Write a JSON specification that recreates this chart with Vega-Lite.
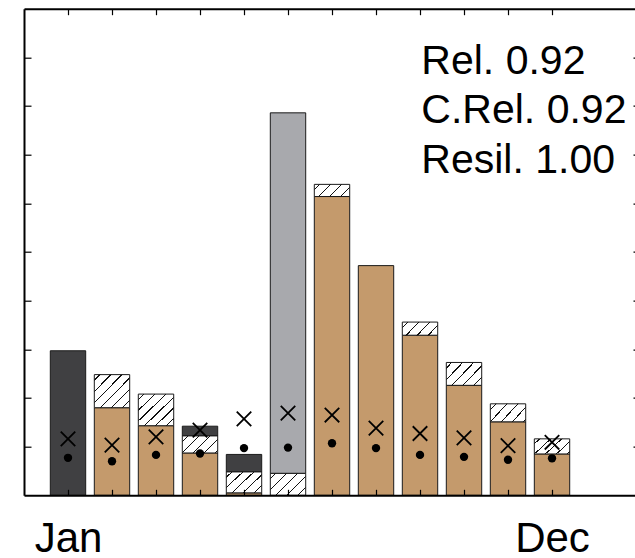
{
  "$schema": "https://vega.github.io/schema/vega-lite/v6.json",
  "width": 611,
  "height": 486.6,
  "autosize": "none",
  "padding": {"left": 24, "top": 8.7, "right": 0, "bottom": 62.7},
  "background": "white",
  "view": {"stroke": null},
  "config": {"font": "Liberation Sans"},
  "datasets": {
    "bars": [
      {"m": 1, "seg": "dark", "g": "", "lo": 0, "hi": 2.97},
      {"m": 2, "seg": "tan", "g": "", "lo": 0, "hi": 1.80},
      {"m": 2, "seg": "hatch", "g": "G4", "lo": 1.80, "hi": 2.48},
      {"m": 3, "seg": "tan", "g": "", "lo": 0, "hi": 1.43},
      {"m": 3, "seg": "hatch", "g": "G4", "lo": 1.43, "hi": 2.08},
      {"m": 4, "seg": "tan", "g": "", "lo": 0, "hi": 0.87},
      {"m": 4, "seg": "hatch", "g": "G2", "lo": 0.87, "hi": 1.22},
      {"m": 4, "seg": "dark", "g": "", "lo": 1.22, "hi": 1.42},
      {"m": 5, "seg": "tan", "g": "", "lo": 0, "hi": 0.05},
      {"m": 5, "seg": "hatch", "g": "G3", "lo": 0.05, "hi": 0.48},
      {"m": 5, "seg": "dark", "g": "", "lo": 0.48, "hi": 0.84},
      {"m": 6, "seg": "hatch", "g": "G3", "lo": 0, "hi": 0.45},
      {"m": 6, "seg": "gray", "g": "", "lo": 0.45, "hi": 7.86},
      {"m": 7, "seg": "tan", "g": "", "lo": 0, "hi": 6.14},
      {"m": 7, "seg": "hatch", "g": "G1", "lo": 6.14, "hi": 6.39},
      {"m": 8, "seg": "tan", "g": "", "lo": 0, "hi": 4.72},
      {"m": 9, "seg": "tan", "g": "", "lo": 0, "hi": 3.29},
      {"m": 9, "seg": "hatch", "g": "G1", "lo": 3.29, "hi": 3.56},
      {"m": 10, "seg": "tan", "g": "", "lo": 0, "hi": 2.26},
      {"m": 10, "seg": "hatch", "g": "G3", "lo": 2.26, "hi": 2.73},
      {"m": 11, "seg": "tan", "g": "", "lo": 0, "hi": 1.51},
      {"m": 11, "seg": "hatch", "g": "G2", "lo": 1.51, "hi": 1.88},
      {"m": 12, "seg": "tan", "g": "", "lo": 0, "hi": 0.85},
      {"m": 12, "seg": "hatch", "g": "G2", "lo": 0.85, "hi": 1.16}
    ],
    "pts": [
      {"m": 1, "cross": 1.16, "dot": 0.77},
      {"m": 2, "cross": 1.03, "dot": 0.70},
      {"m": 3, "cross": 1.20, "dot": 0.83},
      {"m": 4, "cross": 1.34, "dot": 0.86},
      {"m": 5, "cross": 1.57, "dot": 0.97},
      {"m": 6, "cross": 1.69, "dot": 0.98},
      {"m": 7, "cross": 1.65, "dot": 1.07},
      {"m": 8, "cross": 1.38, "dot": 0.97},
      {"m": 9, "cross": 1.27, "dot": 0.83},
      {"m": 10, "cross": 1.18, "dot": 0.79},
      {"m": 11, "cross": 1.02, "dot": 0.73},
      {"m": 12, "cross": 1.09, "dot": 0.76}
    ],
    "notes": [
      {"x": 9.03, "y": 8.66, "t": "Rel. 0.92"},
      {"x": 9.03, "y": 7.645, "t": "C.Rel. 0.92"},
      {"x": 9.03, "y": 6.617, "t": "Resil. 1.00"}
    ]
  },
  "resolve": {"axis": {"x": "independent", "y": "independent"}},
  "layer": [
    {
      "data": {"name": "bars"},
      "transform": [{"filter": "datum.seg !== 'hatch'"}],
      "mark": {"type": "bar", "size": 35.4, "stroke": "#1a1a1a", "strokeWidth": 1},
      "encoding": {
        "x": {"field": "m", "type": "quantitative",
              "scale": {"domain": [0, 13.886], "nice": false, "zero": false, "padding": 0},
              "axis": {"orient": "bottom", "values": [1,2,3,4,5,6,7,8,9,10,11,12], "tickSize": -6, "tickColor": "black", "tickWidth": 1.2,
                       "domainColor": "black", "domainWidth": 2, "grid": false, "title": null, "zindex": 1,
                       "labelExpr": "datum.value == 1 ? 'Jan' : (datum.value == 12 ? 'Dec' : '')",
                       "labelFontSize": 42, "labelFont": "Liberation Sans", "labelColor": "black", "labelPadding": 29, "labelOverlap": false, "labelFlush": false}},
        "y": {"field": "lo", "type": "quantitative",
              "scale": {"domain": [0, 10], "nice": false, "zero": false, "padding": 0},
              "axis": {"orient": "left", "values": [1,2,3,4,5,6,7,8,9], "tickSize": -7, "tickColor": "black", "tickWidth": 1.2,
                       "domainColor": "black", "domainWidth": 2, "labels": false, "grid": false, "title": null, "zindex": 1}},
        "y2": {"field": "hi"},
        "fill": {"field": "seg", "type": "nominal",
                 "scale": {"domain": ["tan", "dark", "gray"], "range": ["#c49a6c", "#404042", "#a8a9ad"]},
                 "legend": null}
      }
    },
    {
      "data": {"name": "bars"},
      "transform": [{"filter": "datum.g === 'G1'"}],
      "mark": {"type": "bar", "size": 35.4, "stroke": "#1a1a1a", "strokeWidth": 1,
               "fill": {"gradient": "linear", "x1": 0, "y1": 0, "x2": 1.203, "y2": 0.4248,
                        "stops": [
                          {"offset": 0, "color": "white"},
                          {"offset": 0.1013, "color": "white"}, {"offset": 0.1013, "color": "#111"}, {"offset": 0.1283, "color": "#111"}, {"offset": 0.1283, "color": "white"},
                          {"offset": 0.3309, "color": "white"}, {"offset": 0.3309, "color": "#111"}, {"offset": 0.3579, "color": "#111"}, {"offset": 0.3579, "color": "white"},
                          {"offset": 0.5605, "color": "white"}, {"offset": 0.5605, "color": "#111"}, {"offset": 0.5875, "color": "#111"}, {"offset": 0.5875, "color": "white"},
                          {"offset": 0.7901, "color": "white"}, {"offset": 0.7901, "color": "#111"}, {"offset": 0.8171, "color": "#111"}, {"offset": 0.8171, "color": "white"},
                          {"offset": 1, "color": "white"}
                        ]}},
      "encoding": {
        "x": {"field": "m", "type": "quantitative", "axis": null},
        "y": {"field": "lo", "type": "quantitative", "axis": null},
        "y2": {"field": "hi"}
      }
    },
    {
      "data": {"name": "bars"},
      "transform": [{"filter": "datum.g === 'G2'"}],
      "mark": {"type": "bar", "size": 35.4, "stroke": "#1a1a1a", "strokeWidth": 1,
               "fill": {"gradient": "linear", "x1": 0, "y1": 0, "x2": 1.2044, "y2": 0.5614,
                        "stops": [
                          {"offset": 0, "color": "white"},
                          {"offset": 0.0935, "color": "white"}, {"offset": 0.0935, "color": "#111"}, {"offset": 0.1185, "color": "#111"}, {"offset": 0.1185, "color": "white"},
                          {"offset": 0.3054, "color": "white"}, {"offset": 0.3054, "color": "#111"}, {"offset": 0.3304, "color": "#111"}, {"offset": 0.3304, "color": "white"},
                          {"offset": 0.5173, "color": "white"}, {"offset": 0.5173, "color": "#111"}, {"offset": 0.5423, "color": "#111"}, {"offset": 0.5423, "color": "white"},
                          {"offset": 0.7292, "color": "white"}, {"offset": 0.7292, "color": "#111"}, {"offset": 0.7542, "color": "#111"}, {"offset": 0.7542, "color": "white"},
                          {"offset": 0.9411, "color": "white"}, {"offset": 0.9411, "color": "#111"}, {"offset": 0.9661, "color": "#111"}, {"offset": 0.9661, "color": "white"},
                          {"offset": 1, "color": "white"}
                        ]}},
      "encoding": {
        "x": {"field": "m", "type": "quantitative", "axis": null},
        "y": {"field": "lo", "type": "quantitative", "axis": null},
        "y2": {"field": "hi"}
      }
    },
    {
      "data": {"name": "bars"},
      "transform": [{"filter": "datum.g === 'G3'"}],
      "mark": {"type": "bar", "size": 35.4, "stroke": "#1a1a1a", "strokeWidth": 1,
               "fill": {"gradient": "linear", "x1": 0, "y1": 0, "x2": 1.1697, "y2": 0.7269,
                        "stops": [
                          {"offset": 0, "color": "white"},
                          {"offset": 0.0845, "color": "white"}, {"offset": 0.0845, "color": "#111"}, {"offset": 0.1071, "color": "#111"}, {"offset": 0.1071, "color": "white"},
                          {"offset": 0.2761, "color": "white"}, {"offset": 0.2761, "color": "#111"}, {"offset": 0.2987, "color": "#111"}, {"offset": 0.2987, "color": "white"},
                          {"offset": 0.4677, "color": "white"}, {"offset": 0.4677, "color": "#111"}, {"offset": 0.4903, "color": "#111"}, {"offset": 0.4903, "color": "white"},
                          {"offset": 0.6593, "color": "white"}, {"offset": 0.6593, "color": "#111"}, {"offset": 0.6819, "color": "#111"}, {"offset": 0.6819, "color": "white"},
                          {"offset": 0.8509, "color": "white"}, {"offset": 0.8509, "color": "#111"}, {"offset": 0.8735, "color": "#111"}, {"offset": 0.8735, "color": "white"},
                          {"offset": 1, "color": "white"}
                        ]}},
      "encoding": {
        "x": {"field": "m", "type": "quantitative", "axis": null},
        "y": {"field": "lo", "type": "quantitative", "axis": null},
        "y2": {"field": "hi"}
      }
    },
    {
      "data": {"name": "bars"},
      "transform": [{"filter": "datum.g === 'G4'"}],
      "mark": {"type": "bar", "size": 35.4, "stroke": "#1a1a1a", "strokeWidth": 1,
               "fill": {"gradient": "linear", "x1": 0, "y1": 0, "x2": 1.0436, "y2": 0.9522,
                        "stops": [
                          {"offset": 0, "color": "white"},
                          {"offset": 0.0717, "color": "white"}, {"offset": 0.0717, "color": "#111"}, {"offset": 0.0909, "color": "#111"}, {"offset": 0.0909, "color": "white"},
                          {"offset": 0.2342, "color": "white"}, {"offset": 0.2342, "color": "#111"}, {"offset": 0.2534, "color": "#111"}, {"offset": 0.2534, "color": "white"},
                          {"offset": 0.3967, "color": "white"}, {"offset": 0.3967, "color": "#111"}, {"offset": 0.4159, "color": "#111"}, {"offset": 0.4159, "color": "white"},
                          {"offset": 0.5592, "color": "white"}, {"offset": 0.5592, "color": "#111"}, {"offset": 0.5784, "color": "#111"}, {"offset": 0.5784, "color": "white"},
                          {"offset": 0.7217, "color": "white"}, {"offset": 0.7217, "color": "#111"}, {"offset": 0.7409, "color": "#111"}, {"offset": 0.7409, "color": "white"},
                          {"offset": 0.8842, "color": "white"}, {"offset": 0.8842, "color": "#111"}, {"offset": 0.9034, "color": "#111"}, {"offset": 0.9034, "color": "white"},
                          {"offset": 1, "color": "white"}
                        ]}},
      "encoding": {
        "x": {"field": "m", "type": "quantitative", "axis": null},
        "y": {"field": "lo", "type": "quantitative", "axis": null},
        "y2": {"field": "hi"}
      }
    },
    {
      "data": {"name": "pts"},
      "mark": {"type": "point", "shape": "M-1,-1L1,1M-1,1L1,-1", "size": 210, "filled": false, "stroke": "black", "strokeWidth": 1.8, "opacity": 1},
      "encoding": {
        "x": {"field": "m", "type": "quantitative",
              "axis": {"orient": "top", "values": [1,2,3,4,5,6,7,8,9,10,11,12], "tickSize": -6, "tickColor": "black", "tickWidth": 1.2,
                       "domainColor": "black", "domainWidth": 2, "labels": false, "grid": false, "title": null, "zindex": 1}},
        "y": {"field": "cross", "type": "quantitative",
              "axis": {"orient": "right", "values": [1,2,3,4,5,6,7,8,9], "tickSize": -10, "tickColor": "black", "tickWidth": 1.2,
                       "domain": false, "offset": 8, "labels": false, "grid": false, "title": null, "zindex": 1}}
      }
    },
    {
      "data": {"name": "pts"},
      "mark": {"type": "circle", "size": 70, "color": "black", "opacity": 1},
      "encoding": {
        "x": {"field": "m", "type": "quantitative", "axis": null},
        "y": {"field": "dot", "type": "quantitative", "axis": null}
      }
    },
    {
      "data": {"name": "notes"},
      "mark": {"type": "text", "align": "left", "baseline": "alphabetic", "fontSize": 41, "font": "Liberation Sans", "color": "black"},
      "encoding": {
        "x": {"field": "x", "type": "quantitative", "axis": null},
        "y": {"field": "y", "type": "quantitative", "axis": null},
        "text": {"field": "t"}
      }
    }
  ]
}
